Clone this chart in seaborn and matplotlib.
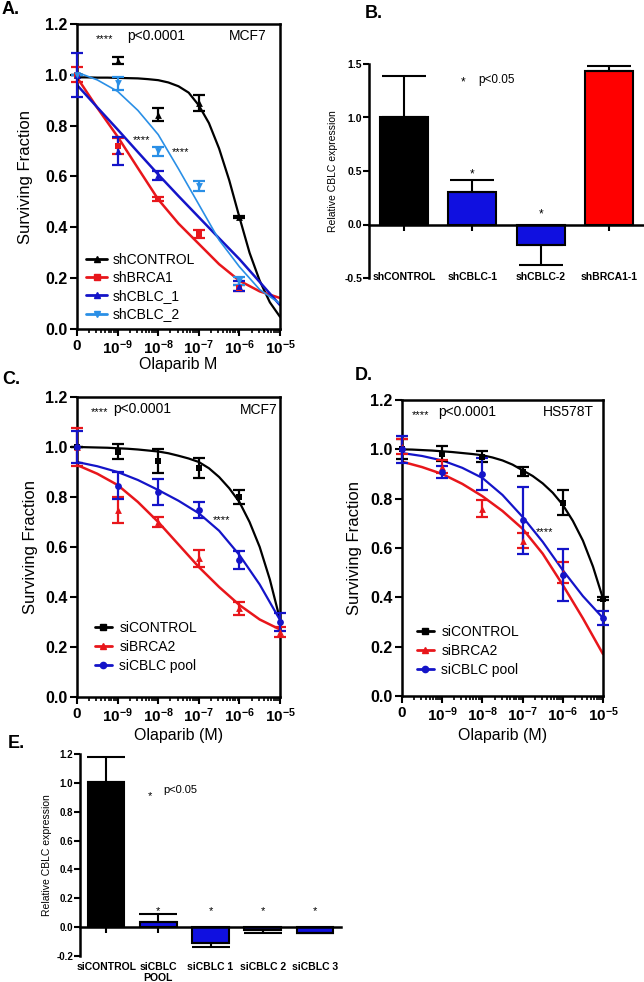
import numpy as np
import pandas as pd
import matplotlib.pyplot as plt
import seaborn as sns
from matplotlib.lines import Line2D
from matplotlib.ticker import FixedLocator, FormatStrFormatter

sns.set_theme(style='ticks')
plt.rcParams['font.family'] = ['Liberation Sans', 'DejaVu Sans']
plt.rcParams['mathtext.fontset'] = 'custom'
plt.rcParams['mathtext.rm'] = 'Liberation Sans'
plt.rcParams['mathtext.bf'] = 'Liberation Sans:bold'
plt.rcParams['mathtext.default'] = 'bf'
for k in ['text.color', 'axes.labelcolor', 'xtick.color', 'ytick.color', 'axes.edgecolor']:
    plt.rcParams[k] = 'black'

nan = np.nan

# ---- doses (log10 M), the "0" dose sits at 1e-10 on the axis
dose_log = [-10, -9, -8, -7, -6, -5]
dose_labels = ['0', '$10^{-9}$', '$10^{-8}$', '$10^{-7}$', '$10^{-6}$', '$10^{-5}$']

fit_x = [-10, -9.5, -9, -8.5, -8, -7.5, -7, -6.5, -6, -5.5, -5]
fit_x_fine = [-10, -9.75, -9.5, -9.25, -9, -8.75, -8.5, -8.25, -8, -7.75, -7.5,
              -7.25, -7, -6.75, -6.5, -6.25, -6, -5.75, -5.5, -5.25, -5]

# ---- A. MCF7 shRNA
a_ctrl = [1.00, 1.056, 0.843, 0.89, 0.44, nan]
a_ctrl_sem = [0.0, 0.013, 0.025, 0.032, 0.005, nan]
a_brca1 = [1.00, 0.72, 0.51, 0.373, 0.163, nan]
a_brca1_sem = [0.03, 0.033, 0.008, 0.016, 0.012, nan]
a_cblc1 = [1.00, 0.70, 0.605, nan, 0.17, nan]
a_cblc1_sem = [0.087, 0.055, 0.018, nan, 0.02, nan]
a_cblc2 = [1.00, 0.967, 0.70, 0.562, 0.19, nan]
a_cblc2_sem = [0.0, 0.025, 0.018, 0.02, 0.015, nan]

a_ctrl_fit = [0.990, 0.990, 0.989, 0.989, 0.988, 0.987, 0.986, 0.983, 0.979, 0.970, 0.955,
              0.930, 0.880, 0.810, 0.710, 0.585, 0.440, 0.300, 0.190, 0.105, 0.048]
a_brca1_fit = [0.99, 0.87, 0.757, 0.633, 0.51, 0.415, 0.335, 0.255, 0.19, 0.148, 0.122]
a_cblc1_fit = [0.96, 0.872, 0.785, 0.696, 0.608, 0.523, 0.44, 0.357, 0.275, 0.185, 0.094]
a_cblc2_fit = [1.01, 0.98, 0.935, 0.86, 0.765, 0.63, 0.49, 0.35, 0.245, 0.155, 0.10]

# ---- B. shRNA knockdown, qPCR
b_labels = ['shCONTROL', 'shCBLC-1', 'shCBLC-2', 'shBRCA1-1']
b_values = [1.003, 0.307, -0.196, 1.438]
b_err = [0.383, 0.112, 0.186, 0.047]

# ---- C. MCF7 siRNA
c_ctrl = [1.00, 0.98, 0.945, 0.915, 0.80, nan]
c_ctrl_sem = [0.0, 0.03, 0.048, 0.04, 0.028, nan]
c_brca2 = [1.00, 0.748, 0.70, 0.555, 0.355, 0.26]
c_brca2_sem = [0.077, 0.05, 0.02, 0.035, 0.025, 0.02]
c_pool = [1.00, 0.845, 0.82, 0.748, 0.55, 0.30]
c_pool_sem = [0.065, 0.053, 0.05, 0.03, 0.036, 0.035]

c_ctrl_fit = [1.0, 0.999, 0.998, 0.997, 0.995, 0.993, 0.99, 0.986, 0.982, 0.975, 0.965,
              0.954, 0.94, 0.915, 0.88, 0.835, 0.78, 0.70, 0.60, 0.47, 0.31]
c_brca2_fit = [0.928, 0.893, 0.848, 0.78, 0.70, 0.61, 0.52, 0.44, 0.368, 0.31, 0.27]
c_pool_fit = [0.94, 0.923, 0.90, 0.868, 0.828, 0.785, 0.735, 0.665, 0.568, 0.45, 0.308]

# ---- D. HS578T siRNA
d_ctrl = [1.00, 0.982, 0.97, 0.91, 0.784, 0.395]
d_ctrl_sem = [0.04, 0.03, 0.023, 0.017, 0.05, 0.005]
d_brca2 = [1.01, 0.93, 0.76, 0.63, 0.50, nan]
d_brca2_sem = [0.03, 0.025, 0.035, 0.03, 0.043, nan]
d_pool = [1.00, 0.908, 0.90, 0.712, 0.492, 0.316]
d_pool_sem = [0.055, 0.025, 0.065, 0.135, 0.105, 0.03]

d_ctrl_fit = [1.0, 0.999, 0.997, 0.995, 0.992, 0.989, 0.985, 0.981, 0.976, 0.967, 0.955,
              0.938, 0.915, 0.892, 0.862, 0.824, 0.775, 0.71, 0.63, 0.525, 0.395]
d_brca2_fit = [0.95, 0.928, 0.90, 0.86, 0.81, 0.75, 0.678, 0.577, 0.45, 0.315, 0.17]
d_pool_fit = [0.985, 0.973, 0.955, 0.925, 0.884, 0.815, 0.726, 0.625, 0.51, 0.405, 0.316]

# ---- E. siRNA knockdown, qPCR
e_labels = ['siCONTROL', 'siCBLC\nPOOL', 'siCBLC 1', 'siCBLC 2', 'siCBLC 3']
e_values = [1.005, 0.039, -0.112, -0.021, -0.038]
e_err = [0.175, 0.055, 0.028, 0.02, 0.004]

BLACK = 'black'
RED = '#e8161b'
BLUE = '#1414c8'
LBLUE = '#2a8fe6'
BAR_BLUE = '#1010e0'
BAR_RED = '#ff0000'

W, H = 644, 982
fig = plt.figure(figsize=(W / 100, H / 100), dpi=100)


def box(left, top, right, bottom):
    return [left / W, 1 - bottom / H, (right - left) / W, (bottom - top) / H]


minor_ticks = [n + np.log10(k) for n in range(-10, -5) for k in range(2, 10)]


def survival(ax, groups, xlabel, ylab_x, xlab_y):
    for (label, mean, sem, fx, fy, color, marker, lw) in groups:
        m = np.array(mean, dtype=float)
        s = np.array(sem, dtype=float)
        x = np.array(dose_log, dtype=float)
        ok = ~np.isnan(m)
        sns.lineplot(x=fx, y=fy, color=color, linewidth=lw, ax=ax, zorder=2)
        ax.errorbar(x[ok], m[ok], yerr=s[ok], fmt='none', ecolor=color,
                    elinewidth=1.6, capsize=4, capthick=1.6, clip_on=False, zorder=3)
        sns.scatterplot(x=x[ok], y=m[ok], color=color, marker=marker, s=24,
                        linewidth=0, ax=ax, zorder=4, clip_on=False)
    ax.set_xlim(-10, -5)
    ax.set_ylim(0, 1.2)
    ax.set_xticks(dose_log)
    ax.set_xticklabels(dose_labels)
    ax.xaxis.set_minor_locator(FixedLocator(minor_ticks))
    ax.set_yticks(np.arange(0, 1.21, 0.2))
    ax.yaxis.set_major_formatter(FormatStrFormatter('%.1f'))
    ax.tick_params(axis='both', which='major', direction='out', length=5, width=1.5, pad=2)
    ax.tick_params(axis='x', which='major', labelsize=11)
    ax.tick_params(axis='y', which='major', labelsize=11.5)
    ax.tick_params(axis='x', which='minor', direction='out', length=3, width=1.2)
    for lab in ax.get_xticklabels() + ax.get_yticklabels():
        lab.set_fontweight('bold')
    for sp in ax.spines.values():
        sp.set_linewidth(1.8)
        sp.set_color('black')
    ax.set_xlabel(xlabel, fontsize=11.5)
    ax.set_ylabel('Surviving Fraction', fontsize=12)
    ax.xaxis.set_label_coords(0.5, xlab_y)
    ax.yaxis.set_label_coords(ylab_x, 0.5)


def legend(ax, groups, anchor, hlen, tpad, spacing):
    handles = [Line2D([0], [0], color=g[5], marker=g[6], markersize=4.5, lw=2)
               for g in groups]
    ax.legend(handles, [g[0] for g in groups], loc='lower left', bbox_to_anchor=anchor,
              frameon=False, fontsize=10, handlelength=hlen, handletextpad=tpad,
              labelspacing=spacing, borderpad=0, borderaxespad=0)


def note(ax, x_star, x_p, x_cell, y, cell):
    ax.text(x_star, y - 0.012, '****', fontsize=8, va='center')
    ax.text(x_p, y, 'p<0.0001', fontsize=10, va='center')
    ax.text(x_cell, y, cell, fontsize=10, va='center', ha='right')


def bars(ax, labels, values, err, colors, xlim, ylim, yticks, width, cap, lab_y):
    pos = list(range(len(labels)))
    df = pd.DataFrame({'group': labels, 'value': values})
    sns.barplot(data=df, x='group', y='value', hue='group', palette=colors, legend=False,
                saturation=1, edgecolor='black', linewidth=1.5, width=width,
                errorbar=None, ax=ax)
    lo = [e if v < 0 else 0 for v, e in zip(values, err)]
    hi = [e if v >= 0 else 0 for v, e in zip(values, err)]
    ax.errorbar(pos, values, yerr=[lo, hi], fmt='none', ecolor='black', elinewidth=1.5,
                capsize=cap, capthick=1.5, zorder=1)
    ax.set_xlim(*xlim)
    ax.set_ylim(*ylim)
    ax.set_yticks(yticks)
    ax.yaxis.set_major_formatter(FormatStrFormatter('%.1f'))
    ax.spines['top'].set_visible(False)
    ax.spines['right'].set_visible(False)
    ax.spines['bottom'].set_position(('data', 0))
    for sp in ['left', 'bottom']:
        ax.spines[sp].set_linewidth(1.8)
        ax.spines[sp].set_color('black')
    ax.set_xticks(pos)
    ax.set_xticklabels([''] * len(pos))
    ax.tick_params(axis='both', direction='out', length=4, width=1.5, pad=1)
    ax.tick_params(axis='y', labelsize=7.5)
    for lab in ax.get_yticklabels():
        lab.set_fontweight('bold')
    for p, lab in zip(pos, labels):
        ax.text(p, lab_y, lab, ha='center', va='top', fontsize=7.5, fontweight='bold',
                linespacing=1.15)
    ax.set_xlabel('')
    ax.set_ylabel('Relative CBLC expression', fontsize=7.5)


# ---------------- A
axA = fig.add_axes(box(77, 24, 280, 329))
groupsA = [
    ('shCONTROL', a_ctrl, a_ctrl_sem, fit_x_fine, a_ctrl_fit, BLACK, '^', 1.6),
    ('shBRCA1', a_brca1, a_brca1_sem, fit_x, a_brca1_fit, RED, 's', 1.8),
    ('shCBLC_1', a_cblc1, a_cblc1_sem, fit_x, a_cblc1_fit, BLUE, '^', 1.8),
    ('shCBLC_2', a_cblc2, a_cblc2_sem, fit_x, a_cblc2_fit, LBLUE, 'v', 1.2),
]
survival(axA, groupsA, 'Olaparib M', -0.217, -0.092)
legend(axA, groupsA, (0.045, 0.025), 1.5, 0.4, 0.3)
note(axA, -9.53, -8.77, -5.32, 1.153, 'MCF7')
axA.text(-8.62, 0.745, '****', fontsize=8, va='center')
axA.text(-7.66, 0.698, '****', fontsize=8, va='center')

# ---------------- B
axB = fig.add_axes(box(369, 64, 643, 278))
bars(axB, b_labels, b_values, b_err, [BLACK, BAR_BLUE, BAR_BLUE, BAR_RED],
     (-0.51, 3.49), (-0.5, 1.5), [-0.5, 0.0, 0.5, 1.0, 1.5], 0.7, 16, -0.44)
axB.yaxis.set_label_coords(-0.113, 0.5)
axB.text(0.87, 1.33, '*', fontsize=8.5, ha='center', va='center')
axB.text(1.09, 1.35, 'p<0.05', fontsize=8.5, va='center')
axB.text(1, 0.47, '*', fontsize=8.5, ha='center', va='center')
axB.text(2, 0.09, '*', fontsize=8.5, ha='center', va='center')

# ---------------- C
axC = fig.add_axes(box(77, 397, 280, 697))
groupsC = [
    ('siCONTROL', c_ctrl, c_ctrl_sem, fit_x_fine, c_ctrl_fit, BLACK, 's', 1.6),
    ('siBRCA2', c_brca2, c_brca2_sem, fit_x, c_brca2_fit, RED, '^', 1.8),
    ('siCBLC pool', c_pool, c_pool_sem, fit_x, c_pool_fit, BLUE, 'o', 1.6),
]
survival(axC, groupsC, 'Olaparib (M)', -0.192, -0.103)
legend(axC, groupsC, (0.089, 0.08), 1.2, 0.55, 0.35)
note(axC, -9.66, -9.11, -5.07, 1.15, 'MCF7')
axC.text(-6.65, 0.708, '****', fontsize=8, va='center')

# ---------------- D
axD = fig.add_axes(box(402, 400, 603, 696))
groupsD = [
    ('siCONTROL', d_ctrl, d_ctrl_sem, fit_x_fine, d_ctrl_fit, BLACK, 's', 1.6),
    ('siBRCA2', d_brca2, d_brca2_sem, fit_x, d_brca2_fit, RED, '^', 1.8),
    ('siCBLC pool', d_pool, d_pool_sem, fit_x, d_pool_fit, BLUE, 'o', 1.6),
]
survival(axD, groupsD, 'Olaparib (M)', -0.20, -0.108)
legend(axD, groupsD, (0.075, 0.064), 1.2, 0.55, 0.35)
note(axD, -9.75, -9.1, -5.22, 1.15, 'HS578T')
axD.text(-6.67, 0.664, '****', fontsize=8, va='center')

# ---------------- E
axE = fig.add_axes(box(80, 754, 341, 956))
bars(axE, e_labels, e_values, e_err, [BLACK, BAR_BLUE, BAR_BLUE, BAR_BLUE, BAR_BLUE],
     (-0.5, 4.5), (-0.2, 1.2), [-0.2, 0.0, 0.2, 0.4, 0.6, 0.8, 1.0, 1.2], 0.7, 14, -0.24)
axE.tick_params(axis='y', labelsize=7)
axE.yaxis.set_label_coords(-0.107, 0.5)
axE.text(0.84, 0.91, '*', fontsize=8, ha='center', va='center')
axE.text(1.09, 0.95, 'p<0.05', fontsize=8, va='center')
for p in [1, 2, 3, 4]:
    axE.text(p, 0.11, '*', fontsize=8, ha='center', va='center')

# panel letters
for lab, x, y in [('A.', 2, 9), ('B.', 365, 14), ('C.', 2, 379), ('D.', 355, 376), ('E.', 8, 744)]:
    fig.text(x / W, 1 - y / H, lab, fontsize=13, fontweight='bold', va='center')

fig.savefig('out.png', dpi=100)
